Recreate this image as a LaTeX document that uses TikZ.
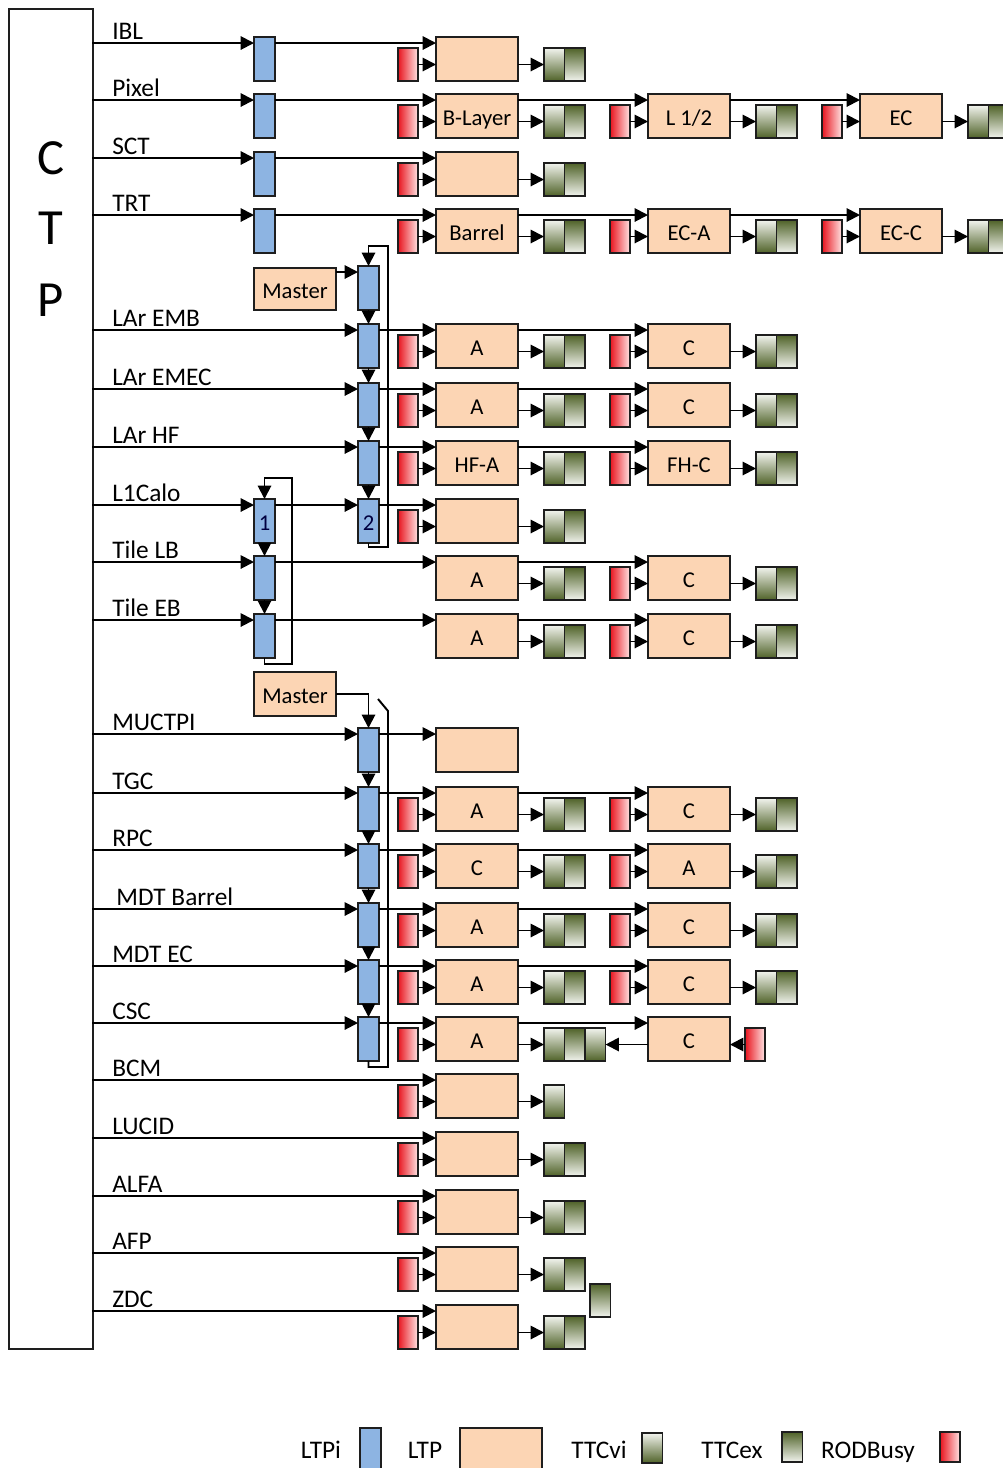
\documentclass[tikz,border=0pt]{standalone}
\usepackage{fontspec}
\setmainfont{Carlito}
\usetikzlibrary{arrows.meta,calc}
\definecolor{ltpiblue}{RGB}{141,180,226}
\definecolor{ltppeach}{RGB}{252,213,180}
\definecolor{busyred}{RGB}{232,20,30}
\definecolor{busylight}{RGB}{255,228,228}
\definecolor{ttcdark}{RGB}{79,98,40}
\definecolor{ttclight}{RGB}{242,244,238}
\definecolor{edgec}{RGB}{30,30,30}
\tikzset{
 box/.style={draw=edgec, line width=1.2pt, inner sep=0pt, outer sep=0pt, anchor=north west},
 ltpi/.style={box, fill=ltpiblue, minimum width=15.75pt, minimum height=33pt, font=\fontsize{17}{20}\selectfont, text=black!75!blue, text depth=0pt, text height=13.5pt},
 ltp/.style={box, fill=ltppeach, minimum width=61.5pt, minimum height=33pt, font=\fontsize{17}{20}\selectfont, text depth=0pt, text height=13.5pt},
 busy/.style={box, left color=busyred, right color=busylight, minimum width=15pt, minimum height=24.75pt},
 ttcvi/.style={box, top color=ttclight, bottom color=ttcdark, minimum width=15.4pt, minimum height=24.75pt},
 ttcex/.style={box, top color=ttcdark, bottom color=ttclight, minimum width=15.4pt, minimum height=24.75pt},
 arr/.style={line width=1.45pt, draw=black, -{Triangle[length=10pt,width=10pt]}},
 ln/.style={line width=1.45pt, draw=black},
 lbl/.style={anchor=base west, inner sep=0pt, font=\fontsize{19}{22}\selectfont},
 leg/.style={anchor=base, inner sep=0pt, font=\fontsize{19}{22}\selectfont},
 big/.style={inner sep=0pt, font=\fontsize{38}{40}\selectfont},
}
\newcommand\sig[3]{\coordinate (#1in) at (92,#3);\node[lbl] (#1lab) at (112,#3-4) {#2};}
\newcommand\ltpiat[4]{\node[ltpi] (#1) at (#2,#3-6) {#4};}
\newcommand\ltpbox[4]{\node[ltp] (#1) at (#2,#3-6) {#4};}
\newcommand\busyto[3]{\node[busy] (#1b) at (#2,#3+5) {};\draw[arr] (#1b.east) -- (#1b.east -| #1.west);}
\newcommand\ttcto[3]{\node[ttcvi] (#1v) at (#2,#3+5) {};\node[ttcex] (#1x) at (#2+20.5,#3+5) {};\draw[arr] (#1v.west -| #1.east) -- (#1v.west);}
\newcommand\fullltp[4]{\ltpbox{#1}{#2}{#3}{#4}\busyto{#1}{#2-38}{#3}\ttcto{#1}{#2+108}{#3}}
\newcommand\feed[2]{\draw[arr] (#1in) -- (#1in -| #2.west);}
\newcommand\link[3]{\draw[arr] (#1in -| #2.east) -- (#1in -| #3.west);}
\begin{document}
\begin{tikzpicture}[x=0.75pt,y=-0.75pt]
\useasboundingbox (0,0) rectangle (1003,1468);
\clip (0,0) rectangle (1003,1468);
% CTP
\node[draw=edgec, line width=1.2pt, anchor=north west, minimum width=63pt, minimum height=1005pt, inner sep=0pt] (ctp) at (8,8) {};
\node[big] (ctpC) at (51,158) {C};
\node[big] (ctpT) at (51,228) {T};
\node[big] (ctpP) at (51,300) {P};

% ---------- Inner detector ----------
\sig{ibl}{IBL}{43}
\ltpiat{iblI}{254}{43}{}
\fullltp{iblA}{436}{43}{}
\feed{ibl}{iblI}\link{ibl}{iblI}{iblA}

\sig{pix}{Pixel}{100}
\ltpiat{pixI}{254}{100}{}
\fullltp{pixA}{436}{100}{B-Layer}
\fullltp{pixB}{648}{100}{L 1/2}
\fullltp{pixC}{860}{100}{EC}
\feed{pix}{pixI}\link{pix}{pixI}{pixA}\link{pix}{pixA}{pixB}\link{pix}{pixB}{pixC}

\sig{sct}{SCT}{158}
\ltpiat{sctI}{254}{158}{}
\fullltp{sctA}{436}{158}{}
\feed{sct}{sctI}\link{sct}{sctI}{sctA}

\sig{trt}{TRT}{215}
\ltpiat{trtI}{254}{215}{}
\fullltp{trtA}{436}{215}{Barrel}
\fullltp{trtB}{648}{215}{EC-A}
\fullltp{trtC}{860}{215}{EC-C}
\feed{trt}{trtI}\link{trt}{trtI}{trtA}\link{trt}{trtA}{trtB}\link{trt}{trtB}{trtC}

% ---------- LAr ----------
\node[ltp, minimum height=31.5pt] (larMaster) at (254,268) {Master};
\node[ltpi] (larM) at (358,266) {};
\coordinate (lmA) at ([yshift=-3pt]larMaster.north east);
\draw[arr] (lmA) -- (lmA -| larM.west);

\sig{emb}{LAr EMB}{330}
\ltpiat{embI}{358}{330}{}
\fullltp{embA}{436}{330}{A}
\fullltp{embC}{648}{330}{C}
\feed{emb}{embI}\link{emb}{embI}{embA}\link{emb}{embA}{embC}

\sig{emec}{LAr EMEC}{389}
\ltpiat{emecI}{358}{389}{}
\fullltp{emecA}{436}{389}{A}
\fullltp{emecC}{648}{389}{C}
\feed{emec}{emecI}\link{emec}{emecI}{emecA}\link{emec}{emecA}{emecC}

\sig{hf}{LAr HF}{447}
\ltpiat{hfI}{358}{447}{}
\fullltp{hfA}{436}{447}{HF-A}
\fullltp{hfC}{648}{447}{FH-C}
\feed{hf}{hfI}\link{hf}{hfI}{hfA}\link{hf}{hfA}{hfC}

\sig{lc}{L1Calo}{505}
\ltpiat{lcI}{254}{505}{1}
\ltpiat{lcII}{358}{505}{2}
\fullltp{lcA}{436}{505}{}
\feed{lc}{lcI}\link{lc}{lcI}{lcII}\link{lc}{lcII}{lcA}

\draw[arr] (larM.south) -- (embI.north);
\draw[arr] (embI.south) -- (emecI.north);
\draw[arr] (emecI.south) -- (hfI.north);
\draw[arr] (hfI.south) -- (lcII.north);
\coordinate (larB) at (388,547);
\coordinate (larT) at (388,246);
\draw[arr] (lcII.south) |- (larB) -- (larT) -| (larM.north);

% ---------- Tile ----------
\sig{tlb}{Tile LB}{562}
\ltpiat{tlbI}{254}{562}{}
\ltpbox{tlbA}{436}{562}{A}\ttcto{tlbA}{544}{562}
\fullltp{tlbC}{648}{562}{C}
\feed{tlb}{tlbI}\link{tlb}{tlbI}{tlbA}\link{tlb}{tlbA}{tlbC}

\sig{teb}{Tile EB}{620}
\ltpiat{tebI}{254}{620}{}
\ltpbox{tebA}{436}{620}{A}\ttcto{tebA}{544}{620}
\fullltp{tebC}{648}{620}{C}
\feed{teb}{tebI}\link{teb}{tebI}{tebA}\link{teb}{tebA}{tebC}

\draw[arr] (lcI.south) -- (tlbI.north);
\draw[arr] (tlbI.south) -- (tebI.north);
\coordinate (tB) at (292,664);
\coordinate (tT) at (292,478);
\draw[arr] (tebI.south) |- (tB) -- (tT) -| (lcI.north);

% ---------- Muon ----------
\node[ltp] (muMaster) at (254,672) {Master};

\sig{muc}{MUCTPI}{734}
\ltpiat{mucI}{358}{734}{}
\ltpbox{mucA}{436}{734}{}
\feed{muc}{mucI}\link{muc}{mucI}{mucA}
\draw[arr] (muMaster.east) -| (mucI.north);

\sig{tgc}{TGC}{793}
\ltpiat{tgcI}{358}{793}{}
\fullltp{tgcA}{436}{793}{A}
\fullltp{tgcC}{648}{793}{C}
\feed{tgc}{tgcI}\link{tgc}{tgcI}{tgcA}\link{tgc}{tgcA}{tgcC}

\sig{rpc}{RPC}{850}
\ltpiat{rpcI}{358}{850}{}
\fullltp{rpcA}{436}{850}{C}
\fullltp{rpcC}{648}{850}{A}
\feed{rpc}{rpcI}\link{rpc}{rpcI}{rpcA}\link{rpc}{rpcA}{rpcC}

\sig{mdtb}{\,MDT Barrel}{909}
\ltpiat{mdtbI}{358}{909}{}
\fullltp{mdtbA}{436}{909}{A}
\fullltp{mdtbC}{648}{909}{C}
\feed{mdtb}{mdtbI}\link{mdtb}{mdtbI}{mdtbA}\link{mdtb}{mdtbA}{mdtbC}

\sig{mdte}{MDT EC}{966}
\ltpiat{mdteI}{358}{966}{}
\fullltp{mdteA}{436}{966}{A}
\fullltp{mdteC}{648}{966}{C}
\feed{mdte}{mdteI}\link{mdte}{mdteI}{mdteA}\link{mdte}{mdteA}{mdteC}

\sig{csc}{CSC}{1023}
\ltpiat{cscI}{358}{1023}{}
\ltpbox{cscA}{436}{1023}{A}\busyto{cscA}{398}{1023}
\node[ttcvi] (cscT1) at (544,1028) {};
\node[ttcex] (cscT2) at (564.5,1028) {};
\node[ttcvi] (cscT3) at (585,1028) {};
\draw[arr] (cscT1.west -| cscA.east) -- (cscT1.west);
\ltpbox{cscC}{648}{1023}{C}
\node[busy] (cscCb) at (745,1028) {};
\draw[arr] (cscCb.west) -- (cscCb.west -| cscC.east);
\draw[arr] (cscT3.east -| cscC.west) -- (cscT3.east);
\feed{csc}{cscI}\link{csc}{cscI}{cscA}\link{csc}{cscA}{cscC}

\draw[arr] (mucI.south) -- (tgcI.north);
\draw[arr] (tgcI.south) -- (rpcI.north);
\draw[arr] (rpcI.south) -- (mdtbI.north);
\draw[arr] (mdtbI.south) -- (mdteI.north);
\draw[arr] (mdteI.south) -- (cscI.north);
\coordinate (muB) at (388,1067);
\coordinate (muT) at (388,711);
\coordinate (muEnd) at (378,699);
\draw[ln] (cscI.south) |- (muB) -- (muT) -- (muEnd);

% ---------- Forward ----------
\sig{bcm}{BCM}{1080}
\ltpbox{bcmA}{436}{1080}{}\busyto{bcmA}{398}{1080}
\node[ttcvi] (bcmAv) at (544,1085) {};
\draw[arr] (bcmAv.west -| bcmA.east) -- (bcmAv.west);
\feed{bcm}{bcmA}

\sig{luc}{LUCID}{1138}
\fullltp{lucA}{436}{1138}{}
\feed{luc}{lucA}

\sig{alfa}{ALFA}{1196}
\fullltp{alfaA}{436}{1196}{}
\feed{alfa}{alfaA}

\sig{afp}{AFP}{1253}
\fullltp{afpA}{436}{1253}{}
\feed{afp}{afpA}
\node[ttcex] (afpExtra) at (590,1284) {};

\sig{zdc}{ZDC}{1311}
\fullltp{zdcA}{436}{1311}{}
\feed{zdc}{zdcA}

% ---------- Legend ----------
\node[leg] (legLTPi) at (321,1458) {LTPi};
\node[ltpi, minimum height=31.5pt] (legLTPiBox) at (360,1428) {};
\node[leg] (legLTP) at (425,1458) {LTP};
\node[ltp, minimum height=31.5pt] (legLTPBox) at (460,1428) {};
\node[leg] (legTTCvi) at (599,1458) {TTCvi};
\node[ttcvi, minimum height=22.5pt] (legTTCviBox) at (642,1433) {};
\node[leg] (legTTCex) at (732,1458) {TTCex};
\node[ttcex, minimum height=22.5pt] (legTTCexBox) at (782,1432) {};
\node[leg] (legBusy) at (868,1458) {RODBusy};
\node[busy, minimum height=22.5pt] (legBusyBox) at (940,1432) {};
\end{tikzpicture}
\end{document}
